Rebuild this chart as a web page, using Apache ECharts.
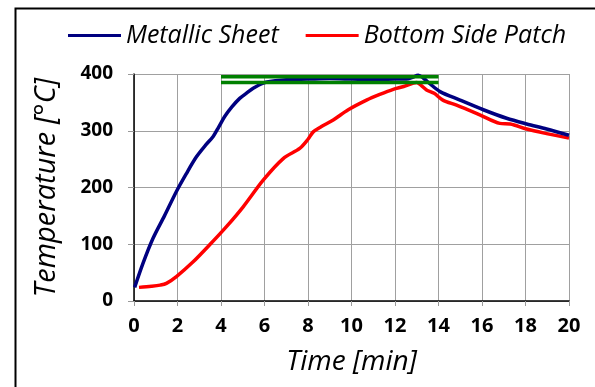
<!DOCTYPE html>
<html>
<head>
<meta charset="utf-8">
<script src="https://cdn.jsdelivr.net/npm/echarts@6/dist/echarts.min.js"></script>
<style>html,body{margin:0;padding:0;background:#fff}#c{width:595px;height:387px}</style>
</head>
<body>
<div id="c"></div>
<script>
// time [min], temperature [°C]
var metallicT = [0.03, 0.4, 0.87, 1.4, 1.95, 2.4, 2.87, 3.3, 3.64, 3.9, 4.17, 4.5, 4.86, 5.2, 5.48, 5.94, 6.5, 7, 8, 9, 10, 11, 12, 12.53, 12.8, 13.07, 13.3, 13.6, 14.07, 14.99, 16.06, 17.13, 18.05, 18.97, 20];
var metallicV = [24, 65, 110, 150, 193, 224, 254, 275, 290, 307, 325, 342, 357, 367, 375, 384, 388, 390, 391, 392, 391, 390, 391, 391, 394, 398, 393, 383, 369, 354, 337, 322, 312, 303, 292];
var patchT = [0.23, 0.8, 1.2, 1.49, 1.95, 2.72, 3.48, 4.25, 5.02, 5.94, 6.86, 7.62, 8.0, 8.24, 8.6, 9.16, 9.85, 10.69, 11.3, 11.92, 12.4, 12.84, 13.0, 13.2, 13.45, 13.8, 14.2, 14.83, 15.9, 16.82, 17.3, 18.05, 18.97, 20];
var patchV = [24, 26, 28, 31, 43, 69, 99, 131, 166, 213, 251, 269, 285, 298, 307, 319, 337, 354, 364, 373, 378, 384, 385, 380, 372, 366, 354, 345, 328, 313, 312, 303, 295, 287];
var bandT = [4, 14];
var bandUpper = [395, 395];
var bandLower = [385, 385];
var xTicks = [0, 2, 4, 6, 8, 10, 12, 14, 16, 18, 20];
var yTicks = [0, 100, 200, 300, 400];

function pairs(t, v) { return t.map(function (x, i) { return [x, v[i]]; }); }

var FONT = 'Open Sans';
var chart = echarts.init(document.getElementById('c'), null, {renderer: 'canvas'});
chart.setOption({
  animation: false,
  backgroundColor: '#fff',
  textStyle: {fontFamily: FONT},
  graphic: [{
    type: 'rect', left: 13, top: 6, silent: true,
    shape: {width: 620, height: 420},
    style: {fill: 'none', stroke: '#000', lineWidth: 2}
  }],
  legend: {
    left: 63, top: 18, itemGap: 27, itemWidth: 53, itemHeight: 3,
    icon: 'rect',
    data: ['Metallic Sheet', 'Bottom Side Patch'],
    textStyle: {fontFamily: FONT, fontStyle: 'italic', fontSize: 25, color: '#000'}
  },
  grid: {left: 134, right: 26, top: 74, bottom: 86, outerBoundsMode: 'none', containLabel: false},
  xAxis: {
    type: 'value', min: 0, max: 20, interval: 2,
    name: 'Time [min]', nameLocation: 'middle', nameGap: 47,
    nameTextStyle: {fontFamily: FONT, fontStyle: 'italic', fontSize: 28, color: '#000'},
    axisLine: {show: true, onZero: false, lineStyle: {color: '#000', width: 1.5}},
    axisTick: {show: true, inside: false, length: 5, lineStyle: {color: '#999'}},
    axisLabel: {fontFamily: FONT, fontWeight: 'bold', fontSize: 20, color: '#000', margin: 15,
      formatter: function (v) { return xTicks.indexOf(v) >= 0 ? String(v) : ''; }},
    splitLine: {show: true, lineStyle: {color: '#a0a0a0', width: 1}}
  },
  yAxis: {
    type: 'value', min: 0, max: 400, interval: 100,
    name: 'Temperature [°C]', nameLocation: 'middle', nameGap: 73,
    nameTextStyle: {fontFamily: FONT, fontStyle: 'italic', fontSize: 29, color: '#000'},
    axisLine: {show: true, onZero: false, lineStyle: {color: '#000', width: 1.5}},
    axisTick: {show: true, inside: false, length: 6, lineStyle: {color: '#999'}},
    axisLabel: {fontFamily: FONT, fontWeight: 'bold', fontSize: 19, color: '#000', margin: 21,
      formatter: function (v) { return yTicks.indexOf(v) >= 0 ? String(v) : ''; }},
    splitLine: {show: true, lineStyle: {color: '#a0a0a0', width: 1}}
  },
  series: [
    {name: 'band-upper', type: 'line', data: pairs(bandT, bandUpper), symbol: 'none', silent: true,
      lineStyle: {color: '#008000', width: 3.5}, z: 3},
    {name: 'band-lower', type: 'line', data: pairs(bandT, bandLower), symbol: 'none', silent: true,
      lineStyle: {color: '#008000', width: 3.5}, z: 3},
    {name: 'Bottom Side Patch', type: 'line', data: pairs(patchT, patchV), symbol: 'none', smooth: 0.3,
      color: '#ff0000', lineStyle: {color: '#ff0000', width: 3.5}, z: 2},
    {name: 'Metallic Sheet', type: 'line', data: pairs(metallicT, metallicV), symbol: 'none', smooth: 0.3,
      color: '#000080', lineStyle: {color: '#000080', width: 3.5}, z: 2}
  ]
});
</script>
</body>
</html>
